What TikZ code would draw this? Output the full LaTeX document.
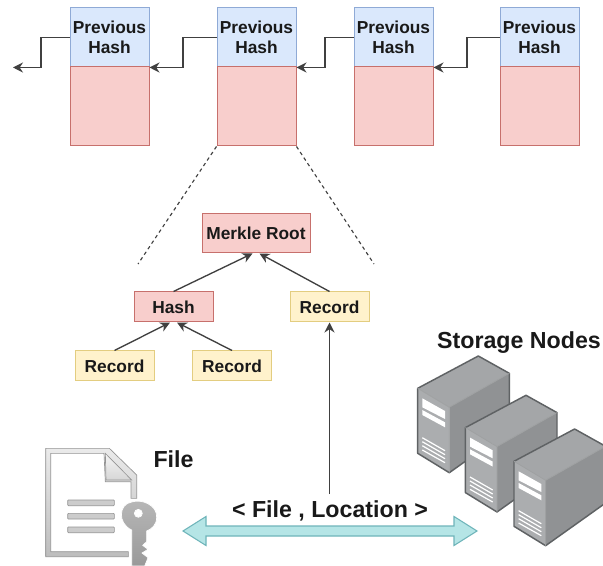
\documentclass[tikz,border=0pt]{standalone}
\usepackage{fontspec}
\setmainfont{Liberation Sans}
\usetikzlibrary{arrows.meta,calc}
\definecolor{hashfill}{HTML}{DAE8FC}
\definecolor{hashline}{HTML}{8FAAD6}
\definecolor{redfill}{HTML}{F8CECC}
\definecolor{redline}{HTML}{C7706C}
\definecolor{yelfill}{HTML}{FFF2CC}
\definecolor{yelline}{HTML}{E3CD80}
\definecolor{tealfill}{HTML}{B5E5E6}
\definecolor{tealline}{HTML}{6FB5BA}
\definecolor{srvfront}{HTML}{ABADAF}
\definecolor{srvside}{HTML}{909294}
\definecolor{srvtop}{HTML}{A4A6A8}
\definecolor{srvedge}{HTML}{5F6264}
\tikzset{
  lbl/.style={font=\bfseries\fontsize{13}{15}\selectfont,text=black!90,align=center,inner sep=0pt},
  bigl/.style={font=\bfseries\fontsize{17.4}{20}\selectfont,text=black!90,align=center,inner sep=0pt},
  hashbox/.style={lbl,draw=hashline,fill=hashfill,minimum width=59.25pt,minimum height=44.25pt,line width=.75pt},
  bodybox/.style={draw=redline,fill=redfill,minimum width=59.25pt,minimum height=59.25pt,line width=.75pt,inner sep=0pt},
  redbox/.style={lbl,draw=redline,fill=redfill,minimum height=22.5pt,line width=.75pt},
  recbox/.style={lbl,draw=yelline,fill=yelfill,minimum width=59.25pt,minimum height=22.5pt,line width=.75pt},
  link/.style={draw=black!75,line width=1pt,-{Stealth[length=7.5pt,width=7.5pt]}},
  dashl/.style={draw=black!75,line width=.85pt,dash pattern=on 2.6pt off 2.4pt},
  iconframe/.style={draw=black!42,line width=.5pt,top color=black!8,bottom color=black!26},
  iconbar/.style={draw=black!42,line width=.5pt,fill=black!20,rounded corners=.6pt},
  srvbar/.style={fill=white,draw=none},
  srvgr/.style={draw=white,line width=.9pt}
}
\newcommand{\serverat}[2]{%
\begin{scope}[shift={(#1,#2)}]
  \fill[srvtop] (478.3,356) -- (509.3,373.3) -- (449.3,407.3) -- (417.7,388.3) -- cycle;
  \fill[srvside] (509.3,373.3) -- (509.3,430) -- (449.3,472.7) -- (449.3,407.3) -- cycle;
  \fill[srvfront] (417.7,388.3) -- (449.3,407.3) -- (449.3,472.7) -- (417.7,453.3) -- cycle;
  \draw[srvedge,line width=1.1pt,line join=round] (478.3,356) -- (509.3,373.3) -- (509.3,430) -- (449.3,472.7) -- (417.7,453.3) -- (417.7,388.3) -- cycle;
  \draw[srvedge!60,line width=.6pt] (417.7,388.3) -- (449.3,407.3) -- (509.3,373.3) (449.3,407.3) -- (449.3,472.7);
  \fill[srvbar] (422.3,398.3) -- (445,411) -- (445,419) -- (422.3,407.3) -- cycle;
  \fill[srvbar] (422.3,410) -- (445,422.3) -- (445,427.3) -- (422.3,415) -- cycle;
  \draw[srvgr] (422.3,437.7) -- (445,450.7) (422.3,441.7) -- (445,454.7) (422.3,445.7) -- (445,458.7) (422.3,450) -- (445,462.7);
\end{scope}}
\begin{document}
\begin{tikzpicture}[x=.75pt,y=-.75pt]
\clip (0,0) rectangle (603,566);
\fill[white] (0,0) rectangle (603,566);

% chain
\node[hashbox] (h1) at (109.5,37.5) {Previous\\Hash};
\node[hashbox] (h2) at (256.5,37.5) {Previous\\Hash};
\node[hashbox] (h3) at (393.5,37.5) {Previous\\Hash};
\node[hashbox] (h4) at (539.5,37.5) {Previous\\Hash};
\node[bodybox] (b1) at (109.5,106.5) {};
\node[bodybox] (b2) at (256.5,106.5) {};
\node[bodybox] (b3) at (393.5,106.5) {};
\node[bodybox] (b4) at (539.5,106.5) {};
\coordinate (out) at (13,67.5);
\coordinate (e1) at (41,0);
\coordinate (e2) at (183,0);
\coordinate (e3) at (325,0);
\coordinate (e4) at (467,0);
\draw[link] (h1.west) -- (e1 |- h1.west) -- (e1 |- out) -- (out);
\draw[link] (h2.west) -- (e2 |- h2.west) -- (e2 |- h1.south east) -- (h1.south east);
\draw[link] (h3.west) -- (e3 |- h3.west) -- (e3 |- h2.south east) -- (h2.south east);
\draw[link] (h4.west) -- (e4 |- h4.west) -- (e4 |- h3.south east) -- (h3.south east);

% zoom lines
\coordinate (dl) at (138,264);
\coordinate (dr) at (374,264);
\draw[dashl] (b2.south west) -- (dl);
\draw[dashl] (b2.south east) -- (dr);

% merkle tree
\node[redbox,minimum width=81pt,minimum height=29.25pt] (root) at (256,233.5) {Merkle Root};
\node[redbox,minimum width=59.25pt] (hash) at (173.5,307) {Hash};
\node[recbox] (r3) at (329.5,307) {Record};
\node[recbox] (r1) at (114.5,366) {Record};
\node[recbox] (r2) at (232,366) {Record};
\draw[link] (hash.north) -- ($(root.south)+(-3.5,0)$);
\draw[link] (r3.north) -- ($(root.south)+(3.5,0)$);
\draw[link] (r1.north) -- ($(hash.south)+(-3.5,0)$);
\draw[link] (r2.north) -- ($(hash.south)+(3.5,0)$);
\coordinate (up) at (329.5,494);
\draw[link] (up) -- (r3.south);

% double arrow
\draw[draw=tealline,fill=tealfill,line width=.8pt,line join=miter]
  (183,531) -- (206,516.5) -- (206,526) -- (454,526) -- (454,516.5) -- (477,531)
  -- (454,545.5) -- (454,536) -- (206,536) -- (206,545.5) -- cycle;
\node[bigl] (loc) at (330,510.5) {< File , Location >};

% file icon
\node[bigl,anchor=center] (file) at (173.5,459.5) {File};
\begin{scope}[shift={(30,430)},x=.25pt,y=-.25pt]
  \path[iconframe] (47,55) -- (238,55) -- (320,135) -- (320,205) -- (303,205) -- (303,155) -- (226,155) -- (222,70) -- (62,70) -- (62,365) -- (295,365) -- (295,380) -- (47,380) -- cycle;
  \path[draw=black!42,line width=.5pt,top color=black!4,bottom color=black!16] (226,70) -- (305,150) -- (228,150) -- cycle;
  \path[iconbar] (113,210) rectangle (253,227);
  \path[iconbar] (113,250) rectangle (253,267);
  \path[iconbar] (113,291) rectangle (253,308);
  \path[draw=white,line width=.5pt,top color=black!28,bottom color=black!40,even odd rule]
    (305,300) .. controls (262,280) and (266,222) .. (305,216)
    .. controls (335,206) and (382,225) .. (380,262)
    .. controls (380,285) and (365,297) .. (350,303)
    -- (350,335) -- (338,346) -- (354,358) -- (336,369) -- (354,383) -- (344,408) -- (305,408) -- cycle
    (337,250) arc[start angle=0,end angle=360,radius=12];
\end{scope}

% servers
\node[bigl] (stor) at (519,343) {Storage Nodes};
\serverat{0}{0}
\serverat{47.7}{39.3}
\serverat{96.3}{73}
\end{tikzpicture}
\end{document}
